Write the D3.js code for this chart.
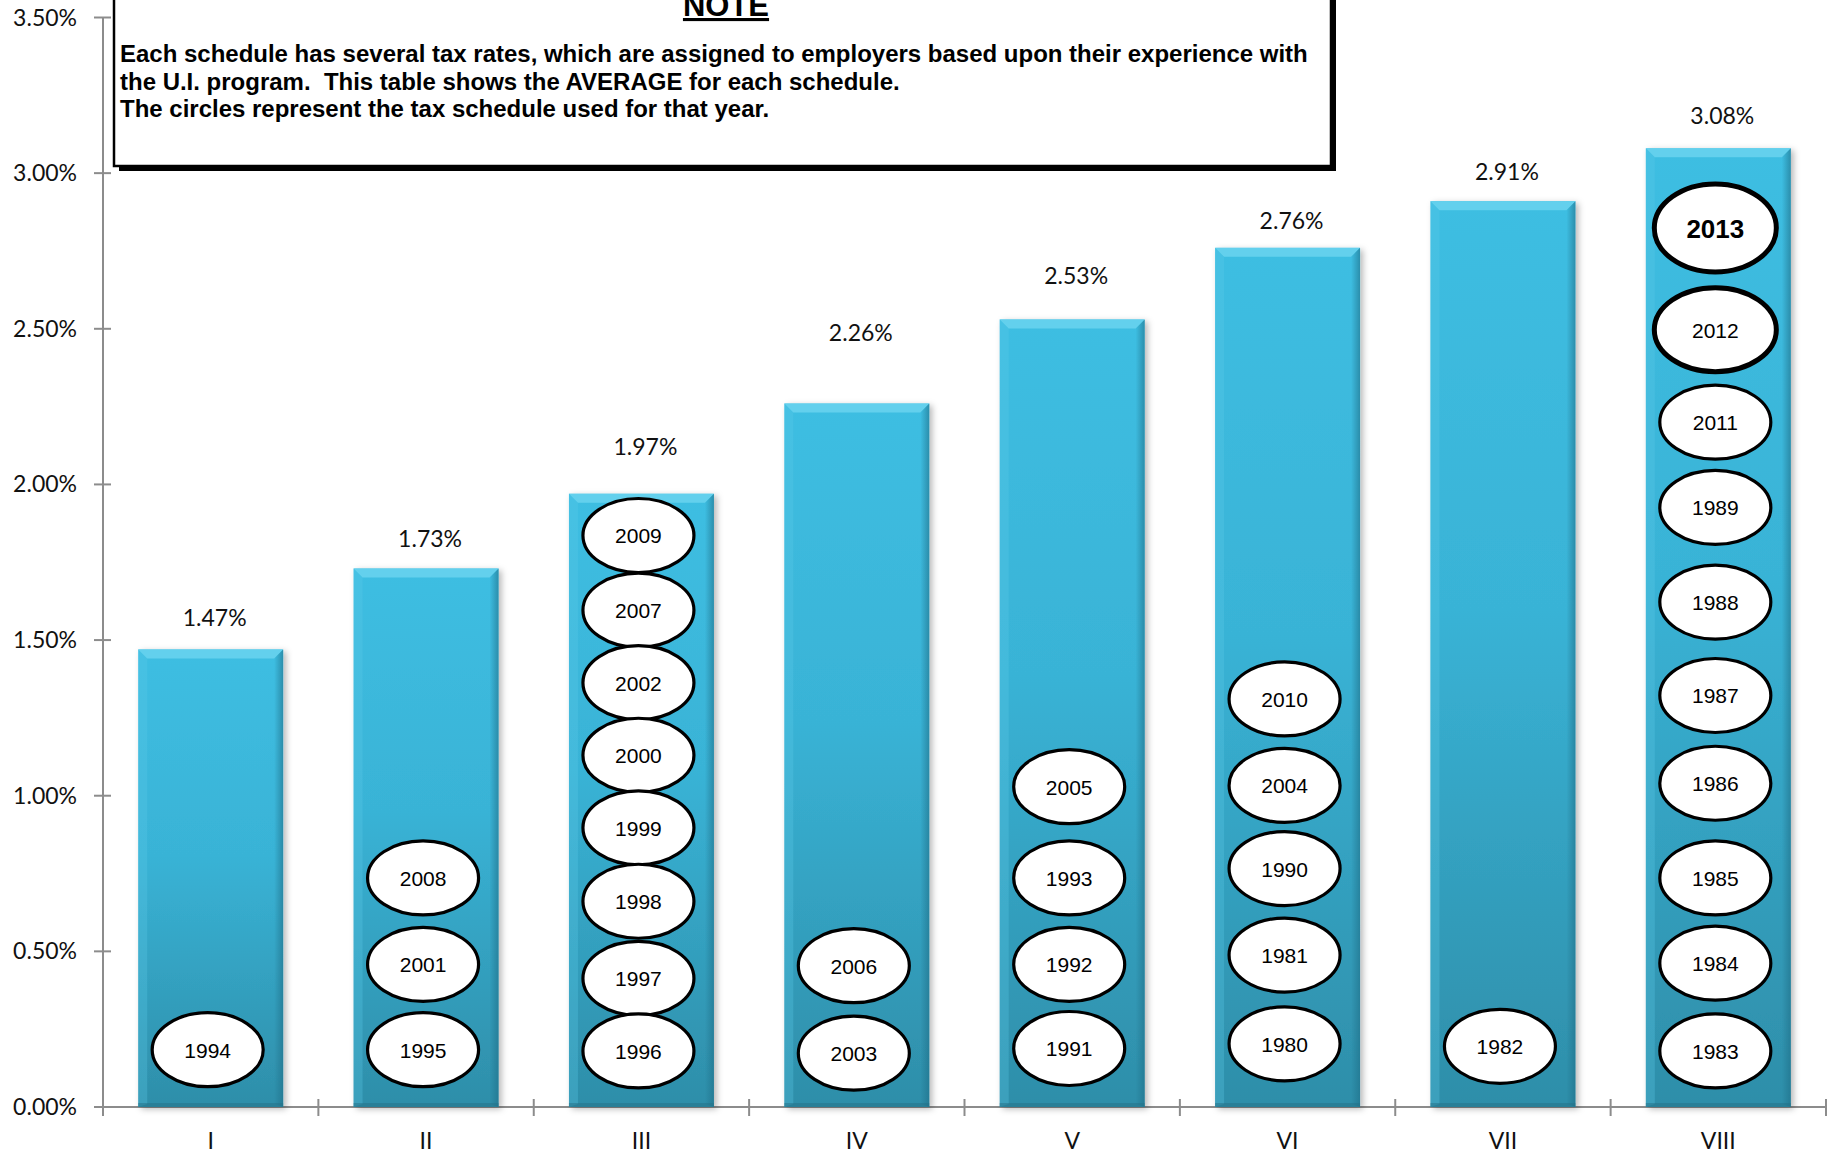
<!DOCTYPE html>
<html>
<head>
<meta charset="utf-8">
<script src="https://cdn.jsdelivr.net/npm/d3@7"></script>
<style>
  html, body { margin: 0; padding: 0; background: #fff; }
  svg { display: block; }
</style>
</head>
<body>
<div id="chart"></div>
<script>
// tax schedules and their average rates (%)
const schedules = ['I', 'II', 'III', 'IV', 'V', 'VI', 'VII', 'VIII'];
const avgRates = [1.47, 1.73, 1.97, 2.26, 2.53, 2.76, 2.91, 3.08];
// level (in %) at which each value label sits
const labelLevels = [1.57, 1.825, 2.12, 2.485, 2.67, 2.845, 3.005, 3.185];

// years that used each schedule, and the level (%) of each year's circle
const scheduleYears = [
    ['1994'],
    ['2008', '2001', '1995'],
    ['2009', '2007', '2002', '2000', '1999', '1998', '1997', '1996'],
    ['2006', '2003'],
    ['2005', '1993', '1992', '1991'],
    ['2010', '2004', '1990', '1981', '1980'],
    ['1982'],
    ['2013', '2012', '2011', '1989', '1988', '1987', '1986', '1985', '1984', '1983']
];
const yearLevels = [
    [0.184],
    [0.736, 0.458, 0.184],
    [1.836, 1.596, 1.363, 1.130, 0.897, 0.661, 0.413, 0.180],
    [0.454, 0.173],
    [1.029, 0.736, 0.458, 0.188],
    [1.311, 1.033, 0.766, 0.488, 0.203],
    [0.195],
    [2.824, 2.497, 2.200, 1.926, 1.622, 1.322, 1.040, 0.736, 0.462, 0.180]
];
const currentYear = '2013';
const previousYear = '2012';

const yTicks = [0, 0.5, 1, 1.5, 2, 2.5, 3, 3.5];

const noteTitle = 'NOTE';
const noteLines = [
    'Each schedule has several tax rates, which are assigned to employers based upon their experience with',
    'the U.I. program.  This table shows the AVERAGE for each schedule.',
    'The circles represent the tax schedule used for that year.'
];

const width = 1835, height = 1154;
const margin = {left: 103, right: 9, top: 17.5, bottom: 47};

const svg = d3.select('#chart').append('svg')
    .attr('width', width)
    .attr('height', height);

const x = d3.scaleBand()
    .domain(schedules)
    .range([margin.left, width - margin.right])
    .paddingInner(0.327)
    .paddingOuter(0.1635);

const y = d3.scaleLinear()
    .domain([0, 3.5])
    .range([height - margin.bottom, margin.top]);

const defs = svg.append('defs');

const grad = defs.append('linearGradient')
    .attr('id', 'barFill')
    .attr('x1', 0).attr('y1', 0).attr('x2', 0).attr('y2', 1);
grad.append('stop').attr('offset', '0%').attr('stop-color', '#3ebee2');
grad.append('stop').attr('offset', '45%').attr('stop-color', '#39b3d6');
grad.append('stop').attr('offset', '100%').attr('stop-color', '#2e8ea9');

const sideGrad = defs.append('linearGradient')
    .attr('id', 'sideShade')
    .attr('x1', 0).attr('y1', 0).attr('x2', 1).attr('y2', 0);
sideGrad.append('stop').attr('offset', '0%').attr('stop-color', '#1f6f88').attr('stop-opacity', 0);
sideGrad.append('stop').attr('offset', '100%').attr('stop-color', '#1f6f88').attr('stop-opacity', 0.6);

const shadow = defs.append('filter')
    .attr('id', 'barShadow')
    .attr('x', '-10%').attr('y', '-5%').attr('width', '125%').attr('height', '115%');
shadow.append('feDropShadow')
    .attr('dx', 3).attr('dy', 2)
    .attr('stdDeviation', 3)
    .attr('flood-color', '#000')
    .attr('flood-opacity', 0.28);

const axisColor = '#8c8c8c';
const x0 = margin.left, yBase = y(0);

// axes
const axes = svg.append('g');
axes.append('line')
    .attr('x1', x0).attr('x2', x0)
    .attr('y1', y(3.5)).attr('y2', yBase)
    .attr('stroke', axisColor).attr('stroke-width', 2);
axes.append('line')
    .attr('x1', x0).attr('x2', width - margin.right)
    .attr('y1', yBase).attr('y2', yBase)
    .attr('stroke', axisColor).attr('stroke-width', 2);

axes.selectAll('.ytick')
    .data(yTicks)
    .enter().append('line')
    .attr('x1', x0 - 9).attr('x2', x0 + 8)
    .attr('y1', d => y(d)).attr('y2', d => y(d))
    .attr('stroke', axisColor).attr('stroke-width', 2);

axes.selectAll('.ylabel')
    .data(yTicks)
    .enter().append('text')
    .attr('x', x0 - 26)
    .attr('y', d => y(d) + 8)
    .attr('text-anchor', 'end')
    .style('font-family', 'Lato, "Open Sans", sans-serif')
    .style('font-size', '23px')
    .style('fill', '#111')
    .text(d => d.toFixed(2) + '%');

const step = x.step();
const boundaries = d3.range(schedules.length + 1).map(i => x0 + i * step);
axes.selectAll('.xtick')
    .data(boundaries)
    .enter().append('line')
    .attr('x1', d => d).attr('x2', d => d)
    .attr('y1', yBase - 8).attr('y2', yBase + 9)
    .attr('stroke', axisColor).attr('stroke-width', 2);

axes.selectAll('.xlabel')
    .data(schedules)
    .enter().append('text')
    .attr('x', d => x(d) + x.bandwidth() / 2)
    .attr('y', yBase + 42)
    .attr('text-anchor', 'middle')
    .style('font-family', 'Lato, "Open Sans", sans-serif')
    .style('font-size', '23px')
    .style('fill', '#111')
    .text(d => d);

// bars with a bevelled look
const bevel = 9;
const bars = svg.append('g').selectAll('g')
    .data(schedules.map((s, i) => ({s, v: avgRates[i]})))
    .enter().append('g');

bars.append('rect')
    .attr('x', d => x(d.s))
    .attr('y', d => y(d.v))
    .attr('width', x.bandwidth())
    .attr('height', d => yBase - y(d.v))
    .attr('fill', 'url(#barFill)')
    .attr('filter', 'url(#barShadow)');

bars.append('polygon')
    .attr('points', d => {
        let l = x(d.s), r = l + x.bandwidth(), t = y(d.v);
        return [[l, t], [r, t], [r - bevel, t + bevel], [l + bevel, t + bevel]].join(' ');
    })
    .attr('fill', '#6ad3ef')
    .attr('opacity', 0.85);

bars.append('polygon')
    .attr('points', d => {
        let l = x(d.s), t = y(d.v);
        return [[l, t], [l + bevel, t + bevel], [l + bevel, yBase - 3], [l, yBase]].join(' ');
    })
    .attr('fill', '#5ccbe9')
    .attr('opacity', 0.3);

bars.append('polygon')
    .attr('points', d => {
        let r = x(d.s) + x.bandwidth(), t = y(d.v);
        return [[r, t], [r - bevel, t + bevel], [r - bevel, yBase - 3], [r, yBase]].join(' ');
    })
    .attr('fill', 'url(#sideShade)');

bars.append('rect')
    .attr('x', d => x(d.s))
    .attr('y', yBase - 4)
    .attr('width', x.bandwidth())
    .attr('height', 4)
    .attr('fill', '#236f86')
    .attr('opacity', 0.5);

// value labels
svg.append('g').selectAll('text')
    .data(schedules.map((s, i) => ({s, v: avgRates[i], at: labelLevels[i]})))
    .enter().append('text')
    .attr('x', d => x(d.s) + x.bandwidth() / 2 + 4)
    .attr('y', d => y(d.at) + 8)
    .attr('text-anchor', 'middle')
    .style('font-family', 'Lato, "Open Sans", sans-serif')
    .style('font-size', '23px')
    .style('fill', '#111')
    .text(d => d.v.toFixed(2) + '%');

// year circles
const circles = [];
schedules.forEach((s, i) => {
    scheduleYears[i].forEach((yr, j) => {
        circles.push({s, yr, level: yearLevels[i][j]});
    });
});

const yearG = svg.append('g').selectAll('g')
    .data(circles)
    .enter().append('g')
    .attr('transform', d => 'translate(' + (x(d.s) + x.bandwidth() / 2 - 3) + ',' + y(d.level) + ')');

yearG.append('ellipse')
    .attr('rx', d => (d.yr === currentYear || d.yr === previousYear) ? 61 : 55.5)
    .attr('ry', d => d.yr === currentYear ? 44 : (d.yr === previousYear ? 42 : 37))
    .attr('fill', '#fff')
    .attr('stroke', '#000')
    .attr('stroke-width', d => (d.yr === currentYear || d.yr === previousYear) ? 5 : 3.2);

yearG.append('text')
    .attr('y', d => d.yr === currentYear ? 10 : 8)
    .attr('text-anchor', 'middle')
    .style('font-family', '"Liberation Sans", Arial, sans-serif')
    .style('font-size', d => d.yr === currentYear ? '26px' : '21px')
    .style('font-weight', d => d.yr === currentYear ? 'bold' : 'normal')
    .style('fill', '#000')
    .text(d => d.yr);

// note box
const note = svg.append('g');
const box = {l: 114, r: 1331, t: -10, b: 166};
note.append('rect')
    .attr('x', box.l + 5).attr('y', box.t + 5)
    .attr('width', box.r - box.l).attr('height', box.b - box.t)
    .attr('fill', '#000');
note.append('rect')
    .attr('x', box.l).attr('y', box.t)
    .attr('width', box.r - box.l).attr('height', box.b - box.t)
    .attr('fill', '#fff')
    .attr('stroke', '#000')
    .attr('stroke-width', 2.5);

note.append('text')
    .attr('x', 726).attr('y', 16)
    .attr('text-anchor', 'middle')
    .style('font-family', '"Liberation Sans", Arial, sans-serif')
    .style('font-size', '31px')
    .style('font-weight', 'bold')
    .style('text-decoration', 'underline')
    .text(noteTitle);

const noteText = note.selectAll('.line')
    .data(noteLines)
    .enter().append('text')
    .attr('x', 120)
    .attr('y', (d, i) => 62 + i * 27.5)
    .style('font-family', '"Liberation Sans", Arial, sans-serif')
    .style('font-size', '21px')
    .style('font-weight', 'bold')
    .style('white-space', 'pre')
    .style('fill', '#000')
    .text(d => d);

// fit the first line to its width in the original
let firstLen = noteText.node().getComputedTextLength();
let fs = 21 * 1188 / firstLen;
noteText.style('font-size', fs + 'px');
</script>
</body>
</html>
